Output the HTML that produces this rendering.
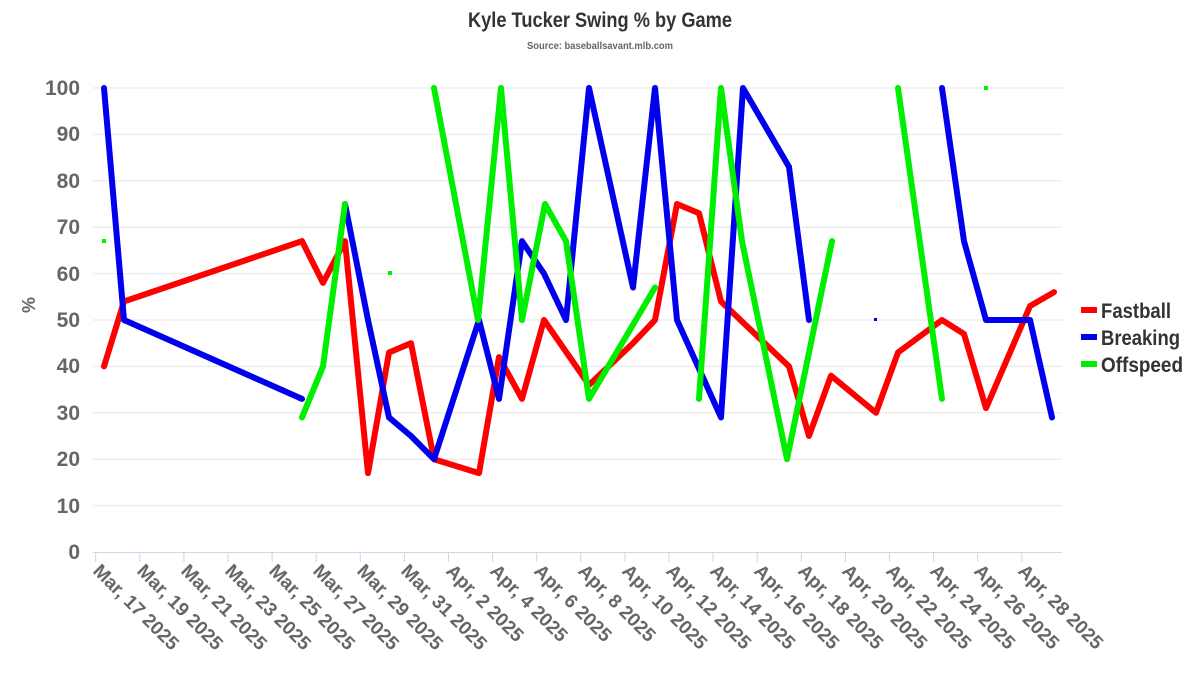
<!DOCTYPE html>
<html><head><meta charset="utf-8"><style>
body{margin:0;background:#fff;}
svg{display:block;font-family:"Liberation Sans Narrow","Liberation Sans",sans-serif;font-weight:bold;}
</style></head><body>
<svg width="1200" height="675" viewBox="0 0 1200 675">
<text x="468" y="27" textLength="264" lengthAdjust="spacingAndGlyphs" font-size="21" fill="#333">Kyle Tucker Swing % by Game</text>
<text x="527" y="49" textLength="146" lengthAdjust="spacingAndGlyphs" font-size="10" fill="#666">Source: baseballsavant.mlb.com</text>
<g stroke="#e6e6e6" stroke-width="1">
<line x1="93" x2="1062" y1="88" y2="88"/><line x1="93" x2="1062" y1="134.4" y2="134.4"/><line x1="93" x2="1062" y1="180.8" y2="180.8"/><line x1="93" x2="1062" y1="227.2" y2="227.2"/><line x1="93" x2="1062" y1="273.6" y2="273.6"/><line x1="93" x2="1062" y1="320" y2="320"/><line x1="93" x2="1062" y1="366.4" y2="366.4"/><line x1="93" x2="1062" y1="412.8" y2="412.8"/><line x1="93" x2="1062" y1="459.2" y2="459.2"/><line x1="93" x2="1062" y1="505.6" y2="505.6"/>
</g>
<line x1="93" x2="1062" y1="552.5" y2="552.5" stroke="#ccd6eb"/>
<g stroke="#ccd6eb"><path d="M95.7 552v10M139.8 552v10M183.9 552v10M228 552v10M272.1 552v10M316.2 552v10M360.3 552v10M404.4 552v10M448.5 552v10M492.6 552v10M536.7 552v10M580.8 552v10M624.9 552v10M669 552v10M713.1 552v10M757.2 552v10M801.3 552v10M845.4 552v10M889.5 552v10M933.6 552v10M977.7 552v10M1021.8 552v10"/></g>
<g font-size="21" fill="#666" text-anchor="end">
<text x="80" y="95" textLength="35" lengthAdjust="spacingAndGlyphs">100</text><text x="80" y="141">90</text><text x="80" y="188">80</text><text x="80" y="234">70</text><text x="80" y="281">60</text><text x="80" y="327">50</text><text x="80" y="373">40</text><text x="80" y="420">30</text><text x="80" y="466">20</text><text x="80" y="513">10</text><text x="80" y="559">0</text>
</g>
<text transform="translate(35,305) rotate(-90)" font-size="18" fill="#666" text-anchor="middle">%</text>
<g font-size="19" fill="#666">
<text transform="translate(92,572) rotate(45)">Mar, 17 2025</text>
<text transform="translate(136,572) rotate(45)">Mar, 19 2025</text>
<text transform="translate(180,572) rotate(45)">Mar, 21 2025</text>
<text transform="translate(224,572) rotate(45)">Mar, 23 2025</text>
<text transform="translate(268,572) rotate(45)">Mar, 25 2025</text>
<text transform="translate(312,572) rotate(45)">Mar, 27 2025</text>
<text transform="translate(356,572) rotate(45)">Mar, 29 2025</text>
<text transform="translate(400,572) rotate(45)">Mar, 31 2025</text>
<text transform="translate(445,572) rotate(45)">Apr, 2 2025</text>
<text transform="translate(489,572) rotate(45)">Apr, 4 2025</text>
<text transform="translate(533,572) rotate(45)">Apr, 6 2025</text>
<text transform="translate(577,572) rotate(45)">Apr, 8 2025</text>
<text transform="translate(621,572) rotate(45)">Apr, 10 2025</text>
<text transform="translate(665,572) rotate(45)">Apr, 12 2025</text>
<text transform="translate(709,572) rotate(45)">Apr, 14 2025</text>
<text transform="translate(753,572) rotate(45)">Apr, 16 2025</text>
<text transform="translate(797,572) rotate(45)">Apr, 18 2025</text>
<text transform="translate(841,572) rotate(45)">Apr, 20 2025</text>
<text transform="translate(885,572) rotate(45)">Apr, 22 2025</text>
<text transform="translate(929,572) rotate(45)">Apr, 24 2025</text>
<text transform="translate(973,572) rotate(45)">Apr, 26 2025</text>
<text transform="translate(1017,572) rotate(45)">Apr, 28 2025</text>
</g>
<g transform="translate(0,552) scale(1,-4.64)" fill="none" stroke-linejoin="round" stroke-linecap="round">
<g stroke="#ff0000" stroke-width="6">
<polyline vector-effect="non-scaling-stroke" points="104,40 124,54 302,67 323,58 345,67 368,17 389,43 411,45 434,20 479,17 499,42 522,33 544,50 589,36 633,45 655,50 677,75 699,73 721,54 789,40 809,25 831,38 876,30 898,43 942,50 964,47 986,31 1030,53 1054,56"/>
</g>
<g stroke="#0000ee" stroke-width="6">
<polyline vector-effect="non-scaling-stroke" points="104,100 124,50 302,33"/>
<polyline vector-effect="non-scaling-stroke" points="345,75 368,50 389,29 411,25 434,20 479,50 499,33 522,67 544,60 566,50 589,100 633,57 655,100 677,50 721,29 743,100 789,83 809,50"/>
<polyline vector-effect="non-scaling-stroke" points="942,100 964,67 986,50 1030,50 1052,29"/>
</g>
<g stroke="#00ee00" stroke-width="6">
<polyline vector-effect="non-scaling-stroke" points="302,29 323,40 345,75"/>
<polyline vector-effect="non-scaling-stroke" points="434,100 478,50 501,100 522,50 545,75 566,67 589,33 655,57"/>
<polyline vector-effect="non-scaling-stroke" points="699,33 721,100 742,67 787,20 832,67"/>
<polyline vector-effect="non-scaling-stroke" points="898,100 942,33"/>
</g>
</g>
<rect x="102" y="239" width="4" height="4" fill="#00ee00"/>
<rect x="388" y="271" width="4" height="4" fill="#00ee00"/>
<rect x="984" y="86" width="4" height="4" fill="#00ee00"/>
<rect x="874" y="318" width="3" height="3" fill="#0000ee"/>
<rect x="1081" y="307" width="16" height="6" fill="#ff0000"/>
<rect x="1081" y="334" width="16" height="6" fill="#0000ee"/>
<rect x="1081" y="361" width="16" height="6" fill="#00ee00"/>
<g font-size="21" fill="#333">
<text x="1101" y="318" textLength="70" lengthAdjust="spacingAndGlyphs">Fastball</text>
<text x="1101" y="345" textLength="79" lengthAdjust="spacingAndGlyphs">Breaking</text>
<text x="1101" y="372" textLength="82" lengthAdjust="spacingAndGlyphs">Offspeed</text>
</g>
</svg>
</body></html>
